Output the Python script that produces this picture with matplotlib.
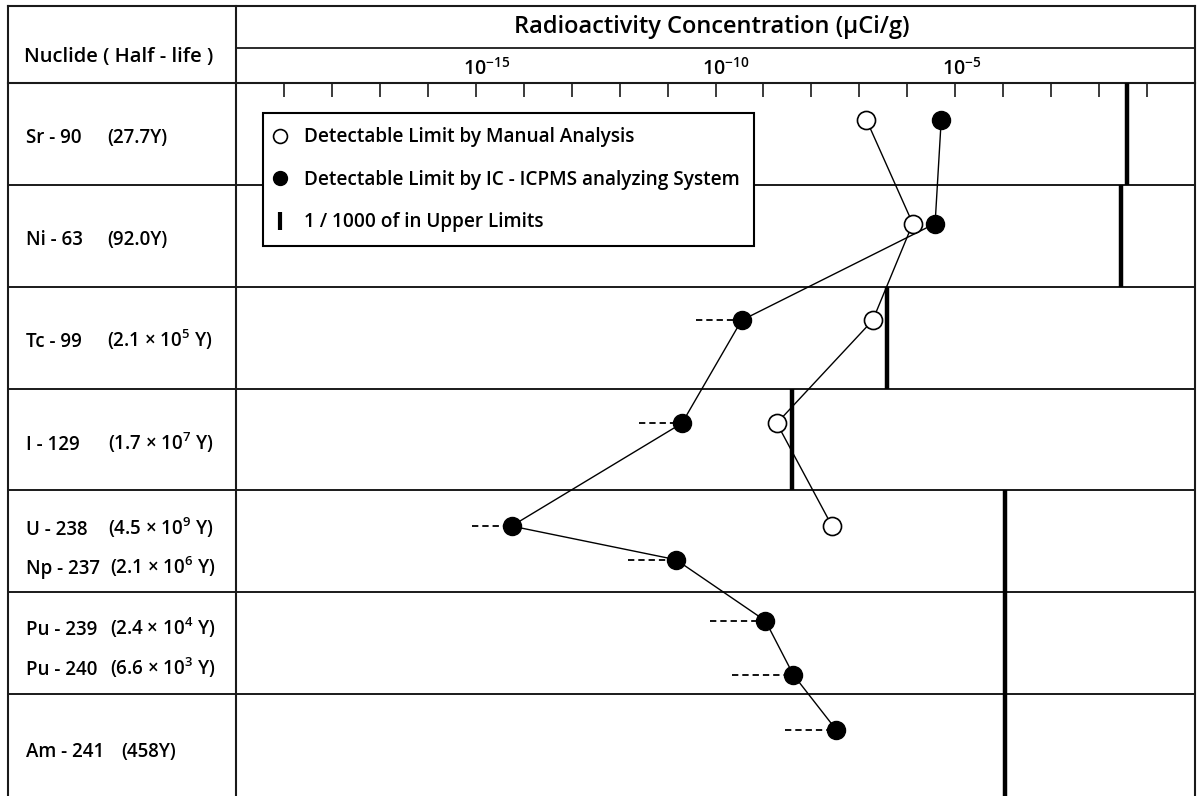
import numpy as np
import matplotlib.pyplot as plt
from matplotlib.lines import Line2D
from matplotlib.transforms import blended_transform_factory, offset_copy

plt.rcParams['font.family'] = ['Open Sans', 'DejaVu Sans']
plt.rcParams['font.weight'] = 'semibold'
plt.rcParams['mathtext.fontset'] = 'custom'
plt.rcParams['mathtext.rm'] = 'Open Sans:semibold'
plt.rcParams['mathtext.it'] = 'Open Sans:semibold'
plt.rcParams['mathtext.bf'] = 'Open Sans:bold'

# table rows (one box per analysis group)
groups = ['Sr-90', 'Ni-63', 'Tc-99', 'I-129', 'U-238 / Np-237', 'Pu-239 / Pu-240', 'Am-241']
upper_limit_1000 = [3.9e-2, 2.8e-2, 3.8e-7, 4.0e-9, 1.1e-4, 1.1e-4, 1.1e-4]   # uCi/g

# nuclides, in drawing order
nuclides = ['Sr - 90', 'Ni - 63', 'Tc - 99', 'I - 129', 'U - 238', 'Np - 237',
            'Pu - 239', 'Pu - 240', 'Am - 241']
half_lives = ['(27.7Y)', '(92.0Y)', '(2.1 × 10$^{5}$ Y)', '(1.7 × 10$^{7}$ Y)',
              '(4.5 × 10$^{9}$ Y)', '(2.1 × 10$^{6}$ Y)', '(2.4 × 10$^{4}$ Y)',
              '(6.6 × 10$^{3}$ Y)', '(458Y)']

# detectable limits (uCi/g)
manual_limit = [1.4e-7, 1.3e-6, 1.9e-7, 1.9e-9, 2.7e-8]          # Sr-90 .. U-238
icpms_limit = [5.1e-6, 3.8e-6, 3.5e-10, 2.0e-11, 5.6e-15, 1.5e-11,
               1.1e-9, 4.2e-9, 3.3e-8]
icpms_low = [np.nan, np.nan, 3.9e-11, 2.6e-12, 8.3e-16, 1.5e-12,
             7.8e-11, 2.2e-10, 2.8e-9]

# vertical placement inside the rows (row units, top = 0)
point_row = [0.36, 1.38, 2.33, 3.34, 4.35, 4.68, 5.28, 5.81, 6.35]
label_base = [0.59, 1.59, 2.59, 3.60, 4.44, 4.82, 5.42, 5.81, 6.62]
half_life_x = [107, 107, 107, 108, 108, 110, 110, 110, 121]

W, H = 1202, 796
X0, X1 = 236, 1195       # plot area, pixels
Y_AX = 83                # axis line
row_h = (H - Y_AX) / len(groups)

fig = plt.figure(figsize=(W / 100, H / 100), dpi=100)

# frame of the table, drawn in pixel coordinates
frame = fig.add_axes([0, 0, 1, 1])
frame.set_xlim(0, W)
frame.set_ylim(H, 0)
frame.axis('off')
lc = '#1a1a1a'
frame.plot([8, X1], [6, 6], color=lc, lw=1.5)
frame.plot([X0, X1], [48, 48], color=lc, lw=1.3)
frame.plot([8, X1], [Y_AX, Y_AX], color=lc, lw=1.5)
for i in range(1, len(groups)):
    y = Y_AX + i * row_h
    frame.plot([8, X1], [y, y], color=lc, lw=1.4)
for x in (8, X0, X1):
    frame.plot([x, x], [6, H], color=lc, lw=1.5)

frame.text(712, 27, 'Radioactivity Concentration (μCi/g)', ha='center', va='center',
           fontsize=17)
frame.text(24, 57, 'Nuclide ( Half - life )', ha='left', va='center', fontsize=14.5)

for name, hl, r, hx in zip(nuclides, half_lives, label_base, half_life_x):
    y = Y_AX + r * row_h
    frame.text(26, y, name, ha='left', va='baseline', fontsize=13.5)
    frame.text(hx, y, hl, ha='left', va='baseline', fontsize=13.5)

# data area
ax = fig.add_axes([X0 / W, 0, (X1 - X0) / W, (H - Y_AX) / H])
ax.patch.set_alpha(0)
ax.set_xscale('log')
ax.set_xlim(1e-20, 1)
ax.set_ylim(len(groups), 0)
for s in ax.spines.values():
    s.set_visible(False)
ax.set_yticks([])
ax.set_xticks(10.0 ** np.arange(-19, 0))
ax.xaxis.set_minor_locator(plt.NullLocator())
ax.xaxis.set_ticks_position('top')
ax.tick_params(axis='x', direction='in', length=10, width=1.2, color=lc,
               labeltop=False, labelbottom=False)

lab_tr = offset_copy(blended_transform_factory(ax.transData, frame.transData),
                     fig=fig, x=-13, y=0, units='dots')
for e in (-15, -10, -5):
    frame.text(10.0 ** e, 75, r'$\mathrm{10^{%d}}$' % e, transform=lab_tr,
               ha='left', va='baseline', fontsize=14)

# 1/1000 of upper limits
for i, v in enumerate(upper_limit_1000):
    ax.vlines(v, i, i + 1, color='black', lw=3.2, zorder=3)

# IC-ICPMS: lower range dashes, connecting line, markers
ax.hlines(point_row, icpms_low, icpms_limit, color='black', lw=1.3,
          linestyles=(0, (3.5, 2.2)), zorder=3)
ax.plot(icpms_limit, point_row, color='black', lw=1.0, zorder=4)
ax.plot(icpms_limit, point_row, 'o', ms=13, mfc='black', mec='black', zorder=5)

# manual analysis
nm = len(manual_limit)
ax.plot(manual_limit, point_row[:nm], color='black', lw=1.0, zorder=4)
ax.plot(manual_limit, point_row[:nm], 'o', ms=13, mfc='white', mec='black',
        mew=1.2, zorder=5)

handles = [
    Line2D([], [], ls='none', marker='o', ms=10, mfc='white', mec='black', mew=1.2,
           label='Detectable Limit by Manual Analysis'),
    Line2D([], [], ls='none', marker='o', ms=10, mfc='black', mec='black',
           label='Detectable Limit by IC - ICPMS analyzing System'),
    Line2D([], [], ls='none', marker='|', ms=13, mew=3, color='black',
           label='1 / 1000 of in Upper Limits'),
]
leg = ax.legend(handles=handles, loc='upper left',
                bbox_to_anchor=(263 / W, 1 - 113 / H), bbox_transform=fig.transFigure,
                fontsize=13.7, frameon=True, fancybox=False, framealpha=1,
                edgecolor='black', borderpad=0.75, labelspacing=1.18,
                handlelength=0.3, handletextpad=1.1, borderaxespad=0)
leg.get_frame().set_linewidth(1.5)
leg.set_zorder(10)

fig.savefig('out.png', dpi=100)
